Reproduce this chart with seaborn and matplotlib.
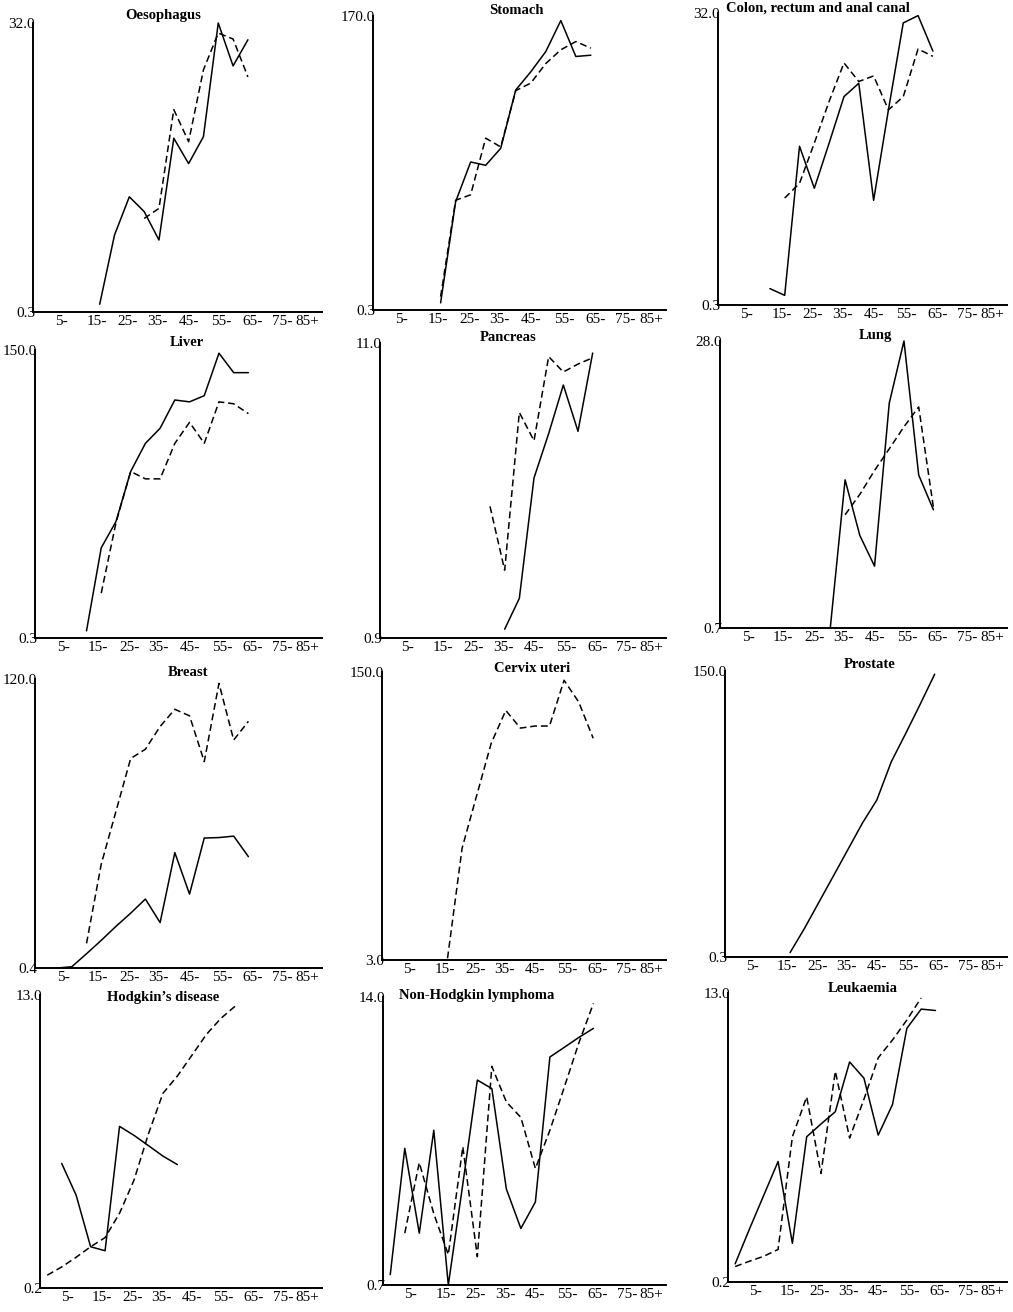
import matplotlib
matplotlib.use("Agg")
import matplotlib.pyplot as plt
from matplotlib.ticker import FixedLocator, FixedFormatter, NullLocator
import numpy as np
import pandas as pd
import seaborn as sns

# ---------------------------------------------------------------- data
# start of each five-year age group (0-4, 5-9, ..., 70-74)
AGES = [0, 5, 10, 15, 20, 25, 30, 35, 40, 45, 50, 55, 60, 65, 70]
AGE_TICK_LABELS = ["5-", "15-", "25-", "35-", "45-", "55-", "65-", "75-", "85+"]
N = None

oesophagus_male = [N, N, N, N, 0.34, 1.04, 1.93, 1.52, 0.96, 4.97, 3.3, 5.1, 32.0, 16.0, 24.4]
oesophagus_female = [N, N, N, N, N, N, N, 1.36, 1.6, 7.9, 4.7, 15.0, 27.2, 24.7, 13.4]

stomach_male = [N, N, N, N, 0.35, 3.1, 7.3, 6.8, 9.8, 34.5, 51, 79, 154, 71, 73]
stomach_female = [N, N, N, N, 0.4, 3.2, 3.6, 12.2, 10.1, 34, 40, 61, 82, 98, 85]

colon_male = [N, N, N, 0.39, 0.35, 3.8, 1.94, 4.0, 8.4, 10.4, 1.6, 6.8, 27.3, 30.7, 17.4]
colon_female = [N, N, N, N, 1.66, 2.1, 4.0, 7.8, 14.4, 10.7, 11.7, 6.8, 8.4, 18.0, 16.0]

liver_male = [N, N, N, 0.35, 2.1, 3.7, 10.9, 20, 27.7, 51, 49, 56, 140, 92, 92]
liver_female = [N, N, N, N, 0.79, 3.6, 10.9, 9.3, 9.3, 20, 31.5, 20, 49, 47, 38]

pancreas_male = [N, N, N, N, N, N, N, N, 0.97, 1.26, 3.5, 5.1, 7.7, 5.2, 10.1]
pancreas_female = [N, N, N, N, N, N, N, 2.75, 1.6, 6.1, 4.8, 9.8, 8.6, 9.2, 9.7]

lung_male = [N, N, N, N, N, N, N, 0.71, 4.7, 2.3, 1.55, 12.6, 28.0, 5.0, 3.2]
lung_female = [N, N, N, N, N, N, N, N, 3.0, 3.9, 5.3, 7.0, 9.3, 12.0, 3.3]

breast_male = [N, 0.4, 0.41, 0.53, 0.69, 0.91, 1.18, 1.56, 0.98, 3.9, 1.72, 5.2, 5.25, 5.4, 3.6]
breast_female = [N, N, N, 0.65, 3.1, 8.8, 25, 30, 47, 66, 58, 23.5, 110, 36, 52]

cervix_male = [N] * 15
cervix_female = [N, N, N, N, 3.07, 13.7, 28, 57, 89, 70, 72, 72, 134, 100, 61]

prostate_male = [N, N, N, N, 0.33, 0.56, 0.99, 1.75, 3.1, 5.5, 9.1, 20.9, 38.7, 73, 140]
prostate_female = [N] * 15

hodgkin_male = [N, 1.18, 0.75, 0.36, 0.34, 2.0, 1.76, 1.52, 1.31, 1.16, N, N, N, N, N]
hodgkin_female = [0.24, 0.27, 0.31, 0.36, 0.41, 0.58, 0.93, 1.8, 3.2, 4.1, 5.5, 7.4, 9.3, 11.1, N]

nhl_male = [0.78, 2.9, 1.2, 3.5, 0.7, 2.0, 5.9, 5.4, 1.9, 1.26, 1.66, 7.5, 8.3, 9.2, 10.1]
nhl_female = [N, 1.2, 2.5, 1.47, 0.96, 2.95, 0.94, 6.8, 4.7, 4.0, 2.35, 3.5, 5.5, 8.7, 13.1]

leukaemia_male = [0.26, 0.43, 0.70, 1.14, 0.35, 1.63, 1.96, 2.34, 4.8, 3.8, 1.67, 2.6, 7.8, 10.3, 10.1]
leukaemia_female = [0.25, 0.27, 0.29, 0.32, 1.63, 2.9, 0.96, 4.2, 1.6, 2.8, 5.1, 6.6, 8.8, 12.1, N]

TITLES = ["Oesophagus", "Stomach", "Colon, rectum and anal canal",
          "Liver", "Pancreas", "Lung",
          "Breast", "Cervix uteri", "Prostate",
          "Hodgkin\u2019s disease", "Non-Hodgkin lymphoma", "Leukaemia"]
Y_RANGES = [(0.3, 32.0), (0.3, 170.0), (0.3, 32.0),
            (0.3, 150.0), (0.9, 11.0), (0.7, 28.0),
            (0.4, 120.0), (3.0, 150.0), (0.3, 150.0),
            (0.2, 13.0), (0.7, 14.0), (0.2, 13.0)]
MALE = [oesophagus_male, stomach_male, colon_male, liver_male, pancreas_male,
        lung_male, breast_male, cervix_male, prostate_male, hodgkin_male,
        nhl_male, leukaemia_male]
FEMALE = [oesophagus_female, stomach_female, colon_female, liver_female,
          pancreas_female, lung_female, breast_female, cervix_female,
          prostate_female, hodgkin_female, nhl_female, leukaemia_female]

# ---------------------------------------------------------------- layout
FIG_W, FIG_H, DPI = 1013, 1312, 100
# (left, top, bottom) of each panel's axes in pixels
PANEL_BOX = [(33, 23, 312), (373, 16, 310), (718, 13, 305),
             (35, 350, 638), (380, 343, 638), (720, 341, 628),
             (35, 679, 968), (382, 672, 960), (725, 671, 957),
             (40, 995, 1288), (383, 997, 1285), (728, 993, 1282)]
COL_RIGHT = [322, 666, 1007]
# title centre (x, y) in pixels
TITLE_XY = [(163, 15), (516, 10), (818, 8),
            (187, 343), (508, 338), (875, 335),
            (188, 672), (532, 668), (870, 665),
            (163, 997), (477, 995), (863, 988)]
X_LIMITS = (-2.5, 95.0)
TICK_POS = [7, 19, 29.5, 39.5, 50, 61, 71.5, 81.5, 90]

sns.set_theme(style="white")
plt.rcParams["font.family"] = ["Liberation Serif", "DejaVu Serif"]

fig = plt.figure(figsize=(FIG_W / DPI, FIG_H / DPI), dpi=DPI)
fig.patch.set_facecolor("white")

for i in range(12):
    left, top, bottom = PANEL_BOX[i]
    right = COL_RIGHT[i % 3]
    ax = fig.add_axes([left / FIG_W, 1 - bottom / FIG_H,
                       (right - left) / FIG_W, (bottom - top) / FIG_H])
    ax.set_facecolor("white")

    frame = pd.concat([
        pd.DataFrame({"age": AGES, "rate": MALE[i], "sex": "male"}),
        pd.DataFrame({"age": AGES, "rate": FEMALE[i], "sex": "female"}),
    ])
    frame["rate"] = pd.to_numeric(frame["rate"])
    frame = frame.dropna()

    sns.lineplot(data=frame, x="age", y="rate", style="sex",
                 dashes={"male": "", "female": (4.5, 2.5)},
                 color="black", linewidth=1.1, legend=False,
                 estimator=None, errorbar=None, ax=ax, clip_on=False)

    lo, hi = Y_RANGES[i]
    ax.set_yscale("log")
    ax.set_ylim(lo, hi)
    ax.yaxis.set_major_locator(FixedLocator([lo, hi]))
    ax.yaxis.set_major_formatter(FixedFormatter([f"{lo:.1f}", f"{hi:.1f}"]))
    ax.yaxis.set_minor_locator(NullLocator())

    ax.set_xlim(*X_LIMITS)
    ax.xaxis.set_major_locator(FixedLocator(TICK_POS))
    ax.xaxis.set_major_formatter(FixedFormatter(AGE_TICK_LABELS))
    ax.xaxis.set_minor_locator(NullLocator())

    ax.set_xlabel("")
    ax.set_ylabel("")
    ax.tick_params(axis="both", length=0, labelsize=11, colors="black")
    ax.tick_params(axis="y", pad=-1.5)
    ax.tick_params(axis="x", pad=2)

    for side in ("top", "right"):
        ax.spines[side].set_visible(False)
    for side in ("left", "bottom"):
        ax.spines[side].set_color("black")
        ax.spines[side].set_linewidth(1.4)

    tx, ty = TITLE_XY[i]
    fig.text(tx / FIG_W, 1 - ty / FIG_H, TITLES[i], ha="center", va="center",
             fontsize=10.5, fontweight="bold", color="black")

fig.savefig("out.png", dpi=DPI, facecolor="white")
